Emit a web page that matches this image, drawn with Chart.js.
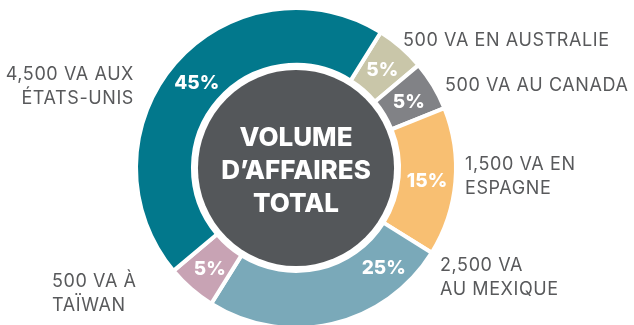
<!DOCTYPE html>
<html>
<head>
<meta charset="utf-8">
<script src="https://cdn.jsdelivr.net/npm/chart.js@4"></script>
<style>
  html, body { margin: 0; padding: 0; background: #fff; overflow: hidden; }
  #wrap { position: relative; width: 634px; height: 325px; }
</style>
</head>
<body>
<div id="wrap"><canvas id="salesChart" width="634" height="325"></canvas></div>
<script>
// sales volume by country (VA), clockwise from the top right
const countries = ['AUSTRALIE', 'CANADA', 'ESPAGNE', 'MEXIQUE', 'TAÏWAN', 'ÉTATS-UNIS'];
const volumes = [500, 500, 1500, 2500, 500, 4500];
const calloutLines = [
  ['500 VA EN AUSTRALIE'],
  ['500 VA AU CANADA'],
  ['1,500 VA EN', 'ESPAGNE'],
  ['2,500 VA', 'AU MEXIQUE'],
  ['500 VA À', 'TAÏWAN'],
  ['4,500 VA AUX', 'ÉTATS-UNIS']
];
const centerLines = ['VOLUME', 'D\u2019AFFAIRES', 'TOTAL'];

const colors = ['#c9c6a9', '#818286', '#f8bf72', '#7aa9b9', '#c8a3b4', '#02788c'];
const centerFill = '#54575a';
const textGray = '#58595b';
const FONT = 'Inter, "Open Sans", sans-serif';

// where each percentage sits along its arc (0 = start, 1 = end)
const pctAlong = [0.5, 0.5, 0.5, 0.18, 0.5, 0.5];
// callout anchors: [x, firstBaseline, align]
const calloutPos = [
  [403, 46, 'left'],
  [445, 91, 'left'],
  [465, 170, 'left'],
  [440, 271, 'left'],
  [52, 287, 'left'],
  [134, 80, 'right']
];
const lineGap = 24;

const total = volumes.reduce((a, b) => a + b, 0);

const labelPlugin = {
  id: 'labelPlugin',
  afterDatasetsDraw(chart) {
    const ctx = chart.ctx;
    const arcs = chart.getDatasetMeta(0).data;
    const cx = arcs[0].x, cy = arcs[0].y;
    const inner = arcs[0].innerRadius;

    // dark centre disc
    ctx.save();
    ctx.beginPath();
    ctx.arc(cx, cy, inner - 5, 0, Math.PI * 2);
    ctx.fillStyle = centerFill;
    ctx.fill();

    ctx.fillStyle = '#fff';
    ctx.textAlign = 'center';
    ctx.textBaseline = 'middle';
    ctx.font = `800 26px ${FONT}`;
    centerLines.forEach((t, i) => ctx.fillText(t, cx, cy - 30 + i * 33));

    // percentages on the ring
    ctx.font = `800 19px ${FONT}`;
    arcs.forEach((arc, i) => {
      const a = arc.startAngle + (arc.endAngle - arc.startAngle) * pctAlong[i];
      const r = (arc.innerRadius + arc.outerRadius) / 2;
      const pct = Math.round(volumes[i] / total * 100) + '%';
      ctx.fillText(pct, cx + Math.cos(a) * r, cy + Math.sin(a) * r + 2);
    });

    // callouts around the ring
    ctx.fillStyle = textGray;
    ctx.font = `400 18px ${FONT}`;
    ctx.letterSpacing = '0.6px';
    ctx.textBaseline = 'alphabetic';
    calloutLines.forEach((lines, i) => {
      const [x, y, align] = calloutPos[i];
      ctx.textAlign = align;
      lines.forEach((t, j) => ctx.fillText(t, x, y + j * lineGap));
    });
    ctx.restore();
  }
};

new Chart(document.getElementById('salesChart'), {
  type: 'doughnut',
  data: {
    labels: countries,
    datasets: [{
      data: volumes,
      backgroundColor: colors,
      borderColor: '#fff',
      borderWidth: 4,
      hoverOffset: 0
    }]
  },
  options: {
    responsive: false,
    animation: false,
    rotation: 32,
    radius: 160,
    cutout: '64.4%',
    layout: { padding: { left: 0, right: 42, top: 11, bottom: 0 } },
    plugins: {
      legend: { display: false },
      tooltip: { enabled: false }
    }
  },
  plugins: [labelPlugin]
});
</script>
</body>
</html>
